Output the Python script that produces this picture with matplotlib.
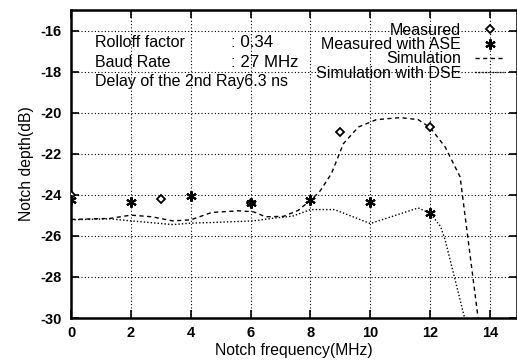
import numpy as np
import matplotlib
matplotlib.use('Agg')
import matplotlib.pyplot as plt
from matplotlib.ticker import MultipleLocator

plt.rcParams['font.family'] = ['Liberation Sans', 'DejaVu Sans']
plt.rcParams['font.size'] = 11.5
plt.rcParams['axes.unicode_minus'] = False

# measured points
meas_f = [0, 3, 6, 9, 12]
meas_db = [-24.02, -24.2, -24.38, -20.95, -20.72]

ase_f = [0, 2, 4, 6, 8, 10, 12]
ase_db = [-24.26, -24.33, -24.07, -24.38, -24.26, -24.36, -24.88]

# simulation curve
sim_f = [0, 1.3, 2.0, 2.7, 3.4, 4.0, 4.7, 5.6, 6.1, 6.5, 7.1, 7.6, 8.0, 8.3,
         8.7, 9.1, 9.6, 10.2, 11.0, 11.6, 12.0, 12.5, 13.0, 13.6]
sim_db = [-25.2, -25.15, -24.99, -25.07, -25.27, -25.22, -24.86, -24.78, -24.83,
          -25.07, -25.05, -24.75, -24.26, -23.86, -22.97, -21.51, -20.7, -20.34,
          -20.24, -20.34, -20.73, -21.67, -23.13, -30.0]

# simulation with DSE
dse_f = [0, 1.3, 2.0, 3.4, 4.0, 4.7, 6.1, 6.7, 7.4, 8.0, 8.8, 10.0, 11.6, 12.0,
         12.35, 12.5, 13.15]
dse_db = [-25.22, -25.17, -25.27, -25.45, -25.38, -25.35, -25.27, -25.15, -25.04,
          -24.72, -24.72, -25.4, -24.64, -24.9, -25.55, -26.2, -30.0]

info_labels = ['Rolloff factor', 'Baud Rate', 'Delay of the 2nd Ray']
info_values = [': 0.34', ': 27 MHz', '6.3 ns']

fig = plt.figure(figsize=(5.17, 3.63), dpi=100)
ax = fig.add_axes([71 / 517, 45 / 363, 1 - 71 / 517, 308 / 363])

ax.plot(meas_f, meas_db, linestyle='none', marker='D', markersize=4.5,
        markerfacecolor='white', markeredgecolor='black', markeredgewidth=1.3,
        label='Measured', zorder=4)
ax.plot(ase_f, ase_db, linestyle='none', marker=(6, 2, 0), markersize=7.5,
        color='black', markeredgewidth=1.5, label='Measured with ASE', zorder=4)
ax.plot(sim_f, sim_db, color='black', linestyle=(0, (3, 2.5)), linewidth=1.0,
        label='Simulation')
ax.plot(dse_f, dse_db, color='black', linestyle=(0, (1, 1.5)), linewidth=1.0,
        label='Simulation with DSE')

ax.set_xlim(0, 14.9)
ax.set_ylim(-30, -15)
ax.xaxis.set_major_locator(MultipleLocator(2))
ax.yaxis.set_major_locator(MultipleLocator(2))
ax.grid(True, color='black', linestyle=(0, (1, 2)), linewidth=0.8)
ax.tick_params(direction='in', length=6, width=1.2, top=True, right=True,
               labelsize=10.5)
ax.tick_params(axis='x', pad=6)
ax.tick_params(axis='y', pad=7)
for lbl in ax.get_xticklabels() + ax.get_yticklabels():
    lbl.set_fontweight('bold')
for sp in ax.spines.values():
    sp.set_linewidth(1.8)

ax.set_xlabel('Notch frequency(MHz)', labelpad=2, fontsize=11.3)
ax.set_ylabel('Notch depth(dB)', labelpad=4, fontsize=11.3)

rows_y = [-16.57, -17.54, -18.48]
for i, (lab, val) in enumerate(zip(info_labels, info_values)):
    if val.startswith(':'):
        ax.text(0.8, rows_y[i], lab, va='center', ha='left')
        ax.text(5.35, rows_y[i], val, va='center', ha='left', fontsize=12.2)
    else:
        # value runs straight into the label, as in the source figure
        ax.text(0.8, rows_y[i], lab + val, va='center', ha='left')

leg = ax.legend(loc='upper right', bbox_to_anchor=(504 / 517, 1 - 23 / 363),
                bbox_transform=fig.transFigure, frameon=False, markerfirst=False,
                borderpad=0, borderaxespad=0, labelspacing=-0.05, handlelength=1.8,
                handletextpad=0.9, fontsize=11.5)
for t in leg.get_texts():
    t.set_ha('right')

fig.savefig('out.png', dpi=100)
